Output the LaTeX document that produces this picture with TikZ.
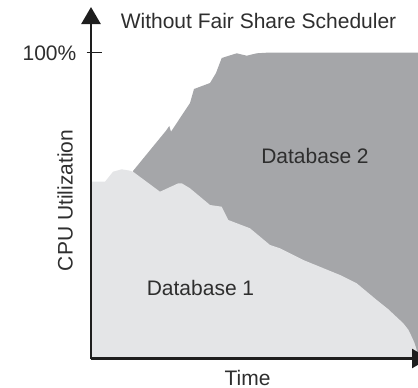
\documentclass[tikz,border=0pt]{standalone}
\usepackage{fontspec}
\setmainfont{Liberation Sans}
\usetikzlibrary{arrows.meta}
\definecolor{lightfill}{HTML}{E4E5E7}
\definecolor{darkfill}{HTML}{A5A6A9}
\definecolor{axiscol}{HTML}{1E1E1E}
\definecolor{txtcol}{HTML}{2E2E2E}
\begin{document}
\begin{tikzpicture}[x=1pt,y=-1pt,
  lbl/.style={text=txtcol,inner sep=0pt,font=\fontsize{21}{25}\selectfont},
  axisline/.style={draw=axiscol,line width=2.5pt,-{Triangle[length=17pt,width=19pt]}},
  tickline/.style={draw=axiscol,line width=1.5pt}]
\useasboundingbox (0,0) rectangle (418,388);
% Database 2 (dark)
\fill[darkfill] (133,171) -- (166,130.7) -- (169.3,126) -- (171,131.7) -- (190,103) -- (194,89)
  -- (210,83) -- (216,73) -- (221.7,58) -- (236.7,53.3) -- (246.7,55.7) -- (256.7,53.3)
  -- (270,52.5) -- (420,52.7) -- (420,358) -- (133,358) -- cycle;
% Database 1 (light)
\fill[lightfill] (91,358) -- (91,181.7) -- (105,181.7) -- (113,171.7) -- (121.7,169.3) -- (130,170.7)
  -- (133,171.7) -- (160,191.7) -- (178.3,183.3) -- (181.7,183.3) -- (190,188.3) -- (210,205)
  -- (221.7,206.7) -- (228.3,220) -- (250,228.3) -- (270,245) -- (280,248.3) -- (303.3,260)
  -- (340,275) -- (356.7,283.3) -- (376.7,300) -- (388,309) -- (396,316.5) -- (403.3,323.3)
  -- (408.5,330) -- (411.7,336.7) -- (414.5,343) -- (416.7,350) -- (418,358) -- cycle;
% axes
\coordinate (origin) at (91,358.5);
\coordinate (ytip) at (91,7);
\coordinate (xtip) at (429,358.5);
\coordinate (tickL) at (86.5,52.5);
\coordinate (tickR) at (101.5,52.5);
\draw[axisline] (origin) -- (ytip);
\draw[axisline] (origin) -- (xtip);
\draw[tickline] (tickL) -- (tickR);
% labels
\node[lbl,anchor=base] (title) at (258.5,28.3) {Without Fair Share Scheduler};
\node[lbl,anchor=base east] (hundred) at (76.5,60) {100\%};
\node[lbl,anchor=base,rotate=90] (ylabel) at (72.5,200.5) {CPU Utilization};
\node[lbl,anchor=base] (xlabel) at (247.5,385) {Time};
\node[lbl,anchor=base] (db1) at (200.5,295) {Database 1};
\node[lbl,anchor=base] (db2) at (315,163.3) {Database 2};
\end{tikzpicture}
\end{document}
